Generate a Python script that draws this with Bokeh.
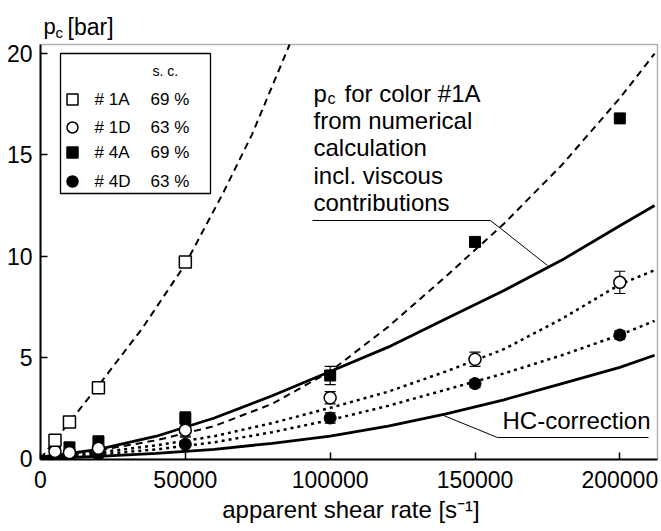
from bokeh.plotting import figure
from bokeh.models import Range1d, FixedTicker, Label, Whisker, ColumnDataSource, TeeHead, BoxAnnotation
from bokeh.embed import file_html
from bokeh.resources import INLINE

# ---------------- data ----------------
x_ticks = [0, 50000, 100000, 150000, 200000]
x_tick_labels = ["0", "50000", "100000", "150000", "200000"]
y_ticks = [0, 5, 10, 15, 20]
y_tick_labels = ["0", "5", "10", "15", "20"]

shear_1A = [5000, 10000, 20000, 50000]
pc_1A = [0.9, 1.8, 3.5, 9.7]
err_1A = [0.15, 0.15, 0.15, 0.15]

shear = [5000, 10000, 20000, 50000, 100000, 150000, 200000]
pc_1D = [0.35, 0.3, 0.5, 1.4, 3.0, 4.9, 8.7]
err_1D = [0.1, 0.1, 0.1, 0.3, 0.3, 0.35, 0.55]
pc_4A = [0.5, 0.55, 0.85, 2.0, 4.1, 10.7, 16.8]
err_4A = [0.2, 0.2, 0.2, 0.3, 0.45, 0.2, 0.2]
pc_4D = [0.1, 0.1, 0.2, 0.7, 2.0, 3.7, 6.1]
err_4D = [0.1, 0.1, 0.1, 0.35, 0.25, 0.2, 0.2]

# dashed curve through #1A (ends where it leaves the frame at the top)
fit1A_x = [0, 10000, 20000, 35000, 50000, 63000, 73000, 86000]
fit1A_y = [0.0, 1.8, 3.6, 6.4, 9.6, 13.1, 16.0, 20.45]

curve_x = [0, 20000, 40000, 60000, 80000, 100000, 120000, 140000, 160000, 180000, 200000, 212000]
# dashed curve through #4A
fit4A_y = [0.1, 0.4, 0.9, 1.6, 2.7, 4.3, 6.5, 9.0, 11.6, 14.5, 17.8, 20.0]
# solid: numerical calculation incl. viscous contributions
numcalc_y = [0.05, 0.45, 1.1, 2.0, 3.1, 4.3, 5.5, 6.9, 8.3, 9.8, 11.5, 12.5]
# solid: HC-correction
hc_y = [0.0, 0.1, 0.25, 0.45, 0.75, 1.1, 1.6, 2.2, 2.9, 3.7, 4.5, 5.1]
# dotted curves through #1D and #4D
fit1D_y = [0.1, 0.3, 0.65, 1.1, 1.75, 2.5, 3.3, 4.3, 5.4, 6.9, 8.6, 9.3]
fit4D_y = [0.05, 0.2, 0.45, 0.8, 1.3, 1.9, 2.6, 3.4, 4.2, 5.1, 6.1, 6.8]

legend_names = ["# 1A", "# 1D", "# 4A", "# 4D"]
legend_sc = ["69 %", "63 %", "69 %", "63 %"]
legend_markers = ["square", "circle", "square", "circle"]
legend_fills = ["white", "white", "black", "black"]

# ---------------- layout helpers ----------------
FONT = "Liberation Sans"
W, H = 661, 531
X0, X1 = 0, 213000          # plotted box (px 40 .. 657)
Y0, Y1 = -0.05, 20.45       # plotted box (px 459 .. 44)
FL, FR, FT, FB = 40, 657, 44, 459


def dx(px):
    return X0 + (px - FL) / (FR - FL) * (X1 - X0)


def dy(py):
    return Y1 - (py - FT) / (FB - FT) * (Y1 - Y0)


# the frame reaches the top and right edges of the canvas, so texts there are not clipped
p = figure(width=W, height=H, output_backend="svg", toolbar_location=None,
           title=None, x_range=Range1d(X0, dx(W)), y_range=Range1d(Y0, dy(0)),
           min_border_left=FL, min_border_right=0,
           min_border_top=0, min_border_bottom=H - FB)
p.grid.visible = False
p.outline_line_color = None
p.background_fill_color = "white"
p.border_fill_color = "white"

for ax, ticks, labels, bnds in ((p.xaxis[0], x_ticks, x_tick_labels, (X0, X1)),
                                (p.yaxis[0], y_ticks, y_tick_labels, (Y0, Y1))):
    ax.ticker = FixedTicker(ticks=ticks)
    ax.major_label_overrides = {t: l for t, l in zip(ticks, labels)}
    ax.bounds = bnds
    ax.major_tick_in = 7
    ax.major_tick_out = 0
    ax.minor_tick_in = 0
    ax.minor_tick_out = 0
    ax.major_tick_line_width = 1.5
    ax.axis_line_width = 2
    ax.major_label_text_font = FONT
    ax.major_label_text_font_size = "23px"
    ax.major_label_text_color = "black"
p.xaxis[0].major_label_standoff = 11
p.yaxis[0].major_label_standoff = 8
p.xaxis[0].axis_label = "apparent shear rate [s\u207b\u00b9]"
p.xaxis[0].axis_label_text_font = FONT
p.xaxis[0].axis_label_text_font_size = "24px"
p.xaxis[0].axis_label_text_font_style = "normal"
p.xaxis[0].axis_label_text_color = "black"
p.xaxis[0].axis_label_standoff = 5

# plot box (top and right edges)
p.add_layout(BoxAnnotation(left=X0, right=X1, bottom=Y0, top=Y1, fill_color=None,
                           line_color="black", line_width=1.5, level="underlay"))

# ---------------- curves ----------------
p.line(fit1A_x, fit1A_y, line_color="black", line_width=2, line_dash="7 5")
p.line(curve_x, fit4A_y, line_color="black", line_width=2, line_dash="7 5")
p.line(curve_x, fit1D_y, line_color="black", line_width=2.5, line_dash="3 4")
p.line(curve_x, fit4D_y, line_color="black", line_width=2.5, line_dash="3 4")
p.line(curve_x, numcalc_y, line_color="black", line_width=2.8)
p.line(curve_x, hc_y, line_color="black", line_width=2.8)

# leader lines of the annotations
p.line([dx(312), dx(490), dx(547)], [dy(220), dy(220), dy(265)], line_color="black", line_width=1)
p.line([dx(443), dx(497), dx(648)], [dy(415), dy(437), dy(437)], line_color="black", line_width=1)

# ---------------- error bars + markers ----------------
def whisk(xs, ys, es):
    src = ColumnDataSource(dict(base=xs, lower=[y - e for y, e in zip(ys, es)],
                                upper=[y + e for y, e in zip(ys, es)]))
    w = Whisker(source=src, base="base", lower="lower", upper="upper", dimension="height",
                line_color="black", line_width=1.2,
                upper_head=TeeHead(size=11, line_width=1.2, line_color="black"),
                lower_head=TeeHead(size=11, line_width=1.2, line_color="black"))
    p.add_layout(w)


p.scatter(shear, pc_4A, marker="square", size=11, fill_color="black", line_color="black")
p.scatter(shear, pc_4D, marker="circle", size=12, fill_color="black", line_color="black")
p.scatter(shear, pc_1D, marker="circle", size=12, fill_color="white", line_color="black", line_width=1.5)
p.scatter(shear_1A, pc_1A, marker="square", size=12, fill_color="white", line_color="black", line_width=1.5)
whisk(shear_1A, pc_1A, err_1A)
whisk(shear, pc_1D, err_1D)
whisk(shear, pc_4A, err_4A)
whisk(shear, pc_4D, err_4D)

# ---------------- legend box ----------------
p.quad(left=dx(60), right=dx(210), top=dy(53), bottom=dy(193),
       fill_color="white", line_color="black", line_width=1.3)
row_py = [99, 127, 152, 181]
p.scatter([dx(72)] * 4, [dy(v) for v in row_py], marker=legend_markers, size=11,
          fill_color=legend_fills, line_color="black", line_width=1.5)


def lab(px, py, text, size):
    p.add_layout(Label(x=dx(px), y=dy(py), text=text, text_font=FONT,
                       text_font_size=size, text_baseline="middle",
                       text_align="left", text_color="black"))


lab(152, 70, "s. c.", "14px")
for name, sc, py in zip(legend_names, legend_sc, row_py):
    lab(94, py, name, "17px")
    lab(150, py, sc, "17px")

# ---------------- annotation texts ----------------
lab(313, 93, "p", "24px")
lab(327, 98, "c", "16px")
lab(344, 93, "for color #1A", "24px")
lab(313, 120, "from numerical", "24px")
lab(313, 147, "calculation", "24px")
lab(313, 175, "incl. viscous", "24px")
lab(313, 202, "contributions", "24px")
lab(502, 420, "HC-correction", "24px")

# y-axis title at the top left
lab(43, 26, "p", "22px")
lab(55, 32, "c", "15px")
lab(67, 26, "[bar]", "23px")

open("out.html", "w").write(file_html(p, INLINE))
